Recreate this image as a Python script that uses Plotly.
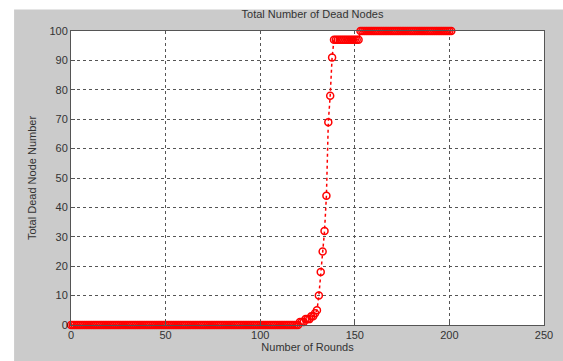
import plotly.graph_objects as go

# Rounds and cumulative dead node count per round
rounds = list(range(0, 202))
dead_tail = {
    121: 1, 122: 1, 123: 1, 124: 2, 125: 2, 126: 2, 127: 3, 128: 3, 129: 4,
    130: 5, 131: 10, 132: 18, 133: 25, 134: 32, 135: 44, 136: 69, 137: 78,
    138: 91,
}
dead_nodes = []
for r in rounds:
    if r <= 120:
        dead_nodes.append(0)
    elif r in dead_tail:
        dead_nodes.append(dead_tail[r])
    elif r <= 152:
        dead_nodes.append(97)
    else:
        dead_nodes.append(100)

x_ticks = [0, 50, 100, 150, 200, 250]
y_ticks = [0, 10, 20, 30, 40, 50, 60, 70, 80, 90, 100]

fig = go.Figure()
fig.add_trace(go.Scatter(
    x=rounds, y=dead_nodes, mode="lines+markers",
    line=dict(color="#ff0000", width=1.5, dash="dot"),
    marker=dict(symbol="circle-open", size=7, color="#ff0000",
                line=dict(color="#ff0000", width=1.5)),
    cliponaxis=False, showlegend=False,
))

font = dict(family="Liberation Sans, Arial, sans-serif", size=11, color="#333333")
axis_common = dict(
    showgrid=True, gridcolor="#555555", griddash="dot", gridwidth=1,
    showline=True, linecolor="#555555", linewidth=1, mirror=True,
    ticks="inside", ticklen=4, tickcolor="#555555",
    zeroline=False, tickfont=font,
)

# plot area: 482 x 300 px
PW, PH = 482.0, 300.0

fig.update_layout(
    width=563, height=361,
    margin=dict(l=71, r=10, t=31, b=30),
    paper_bgcolor="#cbcbcb", plot_bgcolor="#ffffff",
    title=dict(text="Total Number of Dead Nodes", x=0.555, xanchor="center",
               y=1 - 14 / 361, yanchor="middle", font=font),
    xaxis=dict(range=[0, 250], tickvals=x_ticks,
               title=dict(text="Number of Rounds", font=font, standoff=2),
               **axis_common),
    yaxis=dict(range=[0, 100], tickvals=y_ticks,
               title=dict(text="Total Dead Node Number", font=font, standoff=10),
               **axis_common),
    shapes=[
        # white border strips along the left and top edges
        dict(type="rect", xref="paper", yref="paper",
             x0=-80 / PW, x1=-58 / PW, y0=-40 / PH, y1=1 + 40 / PH,
             fillcolor="#ffffff", line_width=0, layer="above"),
        dict(type="rect", xref="paper", yref="paper",
             x0=-80 / PW, x1=1 + 20 / PW, y0=1 + 22 / PH, y1=1 + 40 / PH,
             fillcolor="#ffffff", line_width=0, layer="above"),
    ],
)

fig.write_html("out.html")
